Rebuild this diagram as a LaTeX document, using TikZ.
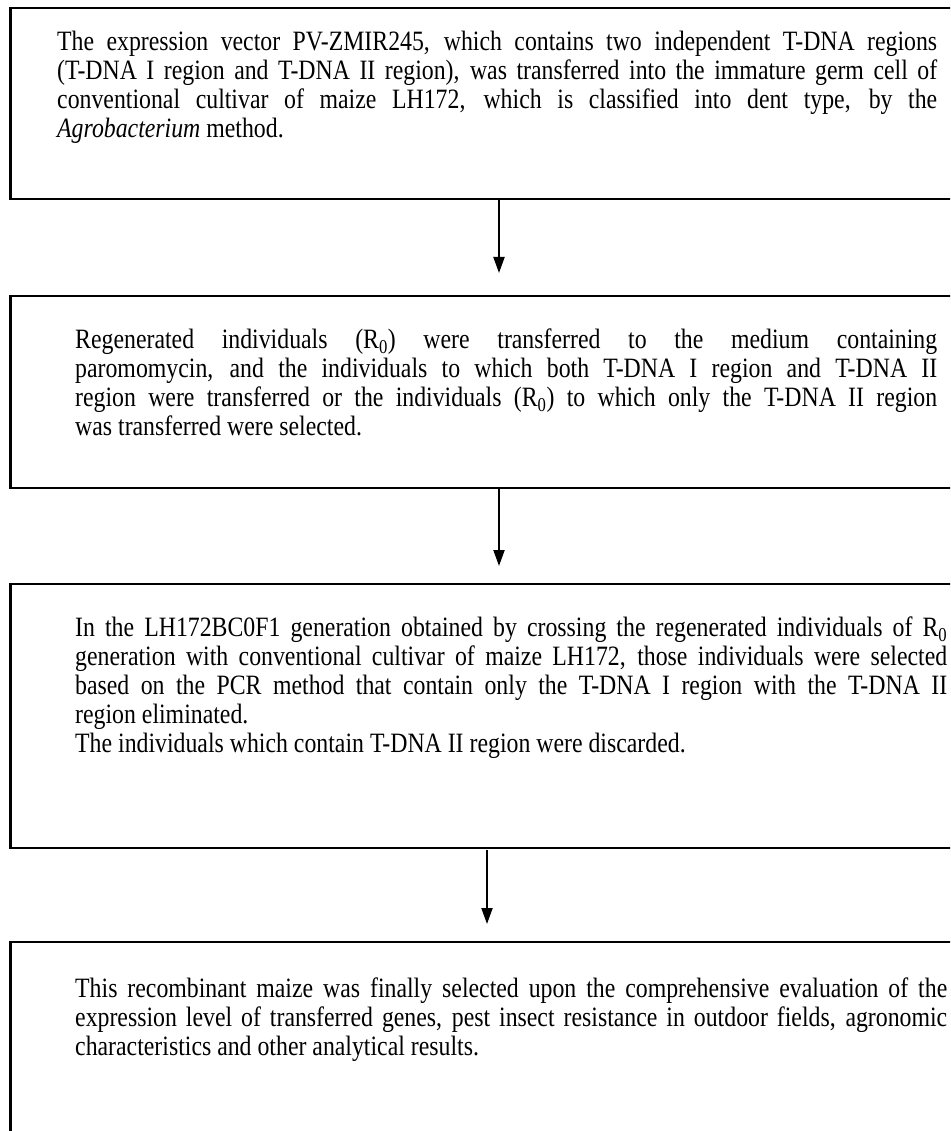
\documentclass[tikz,border=0pt]{standalone}
\usepackage{fontspec}
\setmainfont{Liberation Serif}[FakeStretch=0.85]
\usetikzlibrary{arrows.meta}
\begin{document}
\begin{tikzpicture}[x=1pt,y=1pt,
  stepbox/.style={draw=black,line width=2.4pt},
  steptext/.style={anchor=north west,inner sep=0pt,align=justify,
    font=\fontsize{28}{29}\selectfont},
  flow/.style={line width=2pt,-{Triangle[length=16pt,width=11pt]}}]
\clip (0,0) rectangle (950,-1131);
\useasboundingbox (0,0) rectangle (950,-1131);
% boxes
\draw[stepbox] (10.5,-8) rectangle (975,-199);
\draw[stepbox] (10.5,-296) rectangle (975,-488);
\draw[stepbox] (10.5,-584) rectangle (975,-848);
\draw[stepbox] (10.5,-942) rectangle (975,-1160);
\coordinate (b1) at (499,-199);
\coordinate (t2) at (499,-273);
\coordinate (b2) at (499,-488);
\coordinate (t3) at (499,-566);
\coordinate (b3) at (487,-850);
\coordinate (t4) at (487,-924);
\draw[flow] (b1) -- (t2);
\draw[flow] (b2) -- (t3);
\draw[flow] (b3) -- (t4);
\node[steptext,text width=880pt] (s1) at (57,-31) {The expression vector PV-ZMIR245, which contains two independent T-DNA regions\linebreak (T-DNA I region and T-DNA II region), was transferred into the immature germ cell of\linebreak conventional cultivar of maize LH172, which is classified into dent type, by the\linebreak \textit{Agrobacterium} method.};
\node[steptext,text width=862pt] (s2) at (75,-329) {Regenerated individuals (R\textsubscript{0}) were transferred to the medium containing\linebreak paromomycin, and the individuals to which both T-DNA I region and T-DNA II\linebreak region were transferred or the individuals (R\textsubscript{0}) to which only the T-DNA II region\linebreak was transferred were selected.};
\node[steptext,text width=872pt] (s3) at (75,-617) {In the LH172BC0F1 generation obtained by crossing the regenerated individuals of R\textsubscript{0}\linebreak generation with conventional cultivar of maize LH172, those individuals were selected\linebreak based on the PCR method that contain only the T-DNA I region with the T-DNA II\linebreak region eliminated.\\ The individuals which contain T-DNA II region were discarded.};
\node[steptext,text width=872pt] (s4) at (75,-978) {This recombinant maize was finally selected upon the comprehensive evaluation of the\linebreak expression level of transferred genes, pest insect resistance in outdoor fields, agronomic\linebreak characteristics and other analytical results.};
\end{tikzpicture}
\end{document}
